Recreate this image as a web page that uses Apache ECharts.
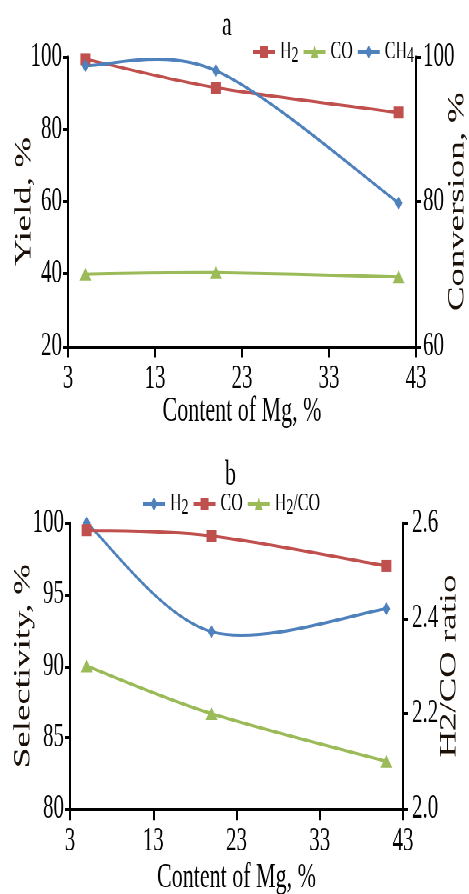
<!DOCTYPE html>
<html>
<head>
<meta charset="utf-8">
<script src="https://cdn.jsdelivr.net/npm/echarts@6/dist/echarts.min.js"></script>
<style>
  html, body { margin: 0; padding: 0; background: #fff; width: 469px; height: 894px; }
  /* the original figure is stretched vertically, so draw it flat and stretch it */
  #wrap { width: 469px; height: 559px; transform: scaleY(1.6); transform-origin: 0 0; }
  #chartA { width: 469px; height: 275px; }
  #chartB { width: 469px; height: 284px; }
</style>
</head>
<body>
<div id="wrap">
  <div id="chartA"></div>
  <div id="chartB"></div>
</div>
<script>
// Mg content of the catalysts, %
var mgContent = [5, 20, 41];
// panel a
var yieldH2 = [99.4, 91.5, 84.6];
var yieldCO = [39.9, 40.3, 39.1];
var convCH4 = [98.8, 98.1, 79.8];
// panel b
var selH2 = [100.0, 92.4, 94.0];
var selCO = [99.5, 99.1, 97.0];
var ratioH2CO = [2.30, 2.20, 2.10];

var red = "#c0504d", green = "#9bbb59", blue = "#4f81bd";
var font = "'Liberation Serif', 'Times New Roman', serif";

function pairs(ys) {
   return mgContent.map(function (x, i) { return [x, ys[i]]; });
}

function subName(name) {
   return name.replace(/(\d)/g, "{sub|$1}");
}

function xAxisOpt(gap) {
   return {
      type: "value", min: 3, max: 43, interval: 10,
      axisLine: { lineStyle: { color: "#000", width: 2 } },
      axisTick: { length: 7, lineStyle: { color: "#000", width: 2 } },
      axisLabel: { color: "#000", fontFamily: font, fontSize: 21, margin: 10 },
      splitLine: { show: false },
      name: "Content of Mg, %", nameLocation: "middle", nameGap: gap, nameMoveOverlap: false,
      nameTextStyle: { color: "#000", fontFamily: font, fontSize: 22 }
   };
}

function yAxisOpt(pos, min, max, step, name, gap, margin, fmt) {
   return {
      type: "value", position: pos, min: min, max: max, interval: step,
      axisLine: { show: true, lineStyle: { color: "#000", width: 2 } },
      axisTick: { show: true, length: 5, lineStyle: { color: "#000", width: 2 } },
      axisLabel: { color: "#000", fontFamily: font, fontSize: 21, margin: margin, formatter: fmt },
      splitLine: { show: false },
      name: name, nameLocation: "middle", nameRotate: 90, nameGap: gap, nameMoveOverlap: false,
      nameTextStyle: { color: "#1a1008", fontFamily: font, fontSize: 23 }
   };
}

// markers only, the curve itself is drawn by curveSeries
function markSeries(name, data, color, symbol, size, yIdx) {
   return {
      name: name, type: "line", data: pairs(data), yAxisIndex: yIdx, z: 3,
      symbol: symbol, symbolSize: size,
      lineStyle: { color: color, width: 2, opacity: 0 },
      itemStyle: { color: color }
   };
}

// Excel-style smoothed line (Catmull-Rom -> cubic bezier) through the data points
function curveSeries(ys, color, yIdx) {
   return {
      type: "custom", data: pairs(ys), yAxisIndex: yIdx, z: 2, silent: true,
      renderItem: function (params, api) {
         if (params.dataIndex !== 0) return null;
         var p = mgContent.map(function (x, i) { return api.coord([x, ys[i]]); });
         var segs = [];
         for (var i = 0; i < p.length - 1; i++) {
            var a = p[i - 1] || p[i], b = p[i], c = p[i + 1], e = p[i + 2] || p[i + 1];
            segs.push({
               type: "bezierCurve",
               shape: {
                  x1: b[0], y1: b[1], x2: c[0], y2: c[1],
                  cpx1: b[0] + (c[0] - a[0]) / 6, cpy1: b[1] + (c[1] - a[1]) / 6,
                  cpx2: c[0] - (e[0] - b[0]) / 6, cpy2: c[1] - (e[1] - b[1]) / 6
               },
               style: { stroke: color, lineWidth: 2, fill: "none" }
            });
         }
         return { type: "group", children: segs };
      }
   };
}

function legendOpt(names, colors, left, top) {
   return {
      data: names.map(function (n, i) {
         return { name: n, lineStyle: { color: colors[i], width: 2, opacity: 1 } };
      }),
      left: left, top: top, padding: 0,
      itemWidth: 22, itemHeight: 10, itemGap: 4,
      formatter: subName,
      textStyle: {
         color: "#000", fontFamily: font, fontSize: 16,
         rich: { sub: { fontFamily: font, fontSize: 14, padding: [5, 0, 0, 0] } }
      }
   };
}

var chartA = echarts.init(document.getElementById("chartA"), null, { devicePixelRatio: 2 });
chartA.setOption({
   animation: false,
   title: { text: "a", left: 222, top: 5, padding: 0, textStyle: { color: "#000", fontFamily: font, fontSize: 22, fontWeight: "normal" } },
   legend: legendOpt(["H2", "CO", "CH4"], [red, green, blue], 252, 24.5),
   grid: { left: 68, right: 53, top: 35.6, bottom: 58.75, outerBoundsMode: "none" },
   xAxis: xAxisOpt(30),
   yAxis: [
      yAxisOpt("left", 20, 100, 20, "Yield, %", 32, 6),
      yAxisOpt("right", 60, 100, 20, "Conversion, %", 30, 7)
   ],
   series: [
      curveSeries(yieldH2, red, 0),
      curveSeries(yieldCO, green, 0),
      curveSeries(convCH4, blue, 1),
      markSeries("H2", yieldH2, red, "rect", [10, 7.5], 0),
      markSeries("CO", yieldCO, green, "triangle", [12, 8], 0),
      markSeries("CH4", convCH4, blue, "diamond", [8, 8], 1)
   ]
});

var chartB = echarts.init(document.getElementById("chartB"), null, { devicePixelRatio: 2 });
chartB.setOption({
   animation: false,
   title: { text: "b", left: 225, top: 11, padding: 0, textStyle: { color: "#000", fontFamily: font, fontSize: 22, fontWeight: "normal" } },
   legend: legendOpt(["H2", "CO", "H2/CO"], [blue, red, green], 142, 32),
   grid: { left: 70, right: 66, top: 51.9, bottom: 53.4, outerBoundsMode: "none" },
   xAxis: xAxisOpt(32),
   yAxis: [
      yAxisOpt("left", 80, 100, 5, "Selectivity, %", 35, 6),
      yAxisOpt("right", 2.0, 2.6, 0.2, "H2/CO ratio", 35, 9, function (v) { return v.toFixed(1); })
   ],
   series: [
      curveSeries(selH2, blue, 0),
      curveSeries(selCO, red, 0),
      curveSeries(ratioH2CO, green, 1),
      markSeries("H2", selH2, blue, "diamond", [8, 8], 0),
      markSeries("CO", selCO, red, "rect", [10, 7.5], 0),
      markSeries("H2/CO", ratioH2CO, green, "triangle", [12, 8], 1)
   ]
});
</script>
</body>
</html>
